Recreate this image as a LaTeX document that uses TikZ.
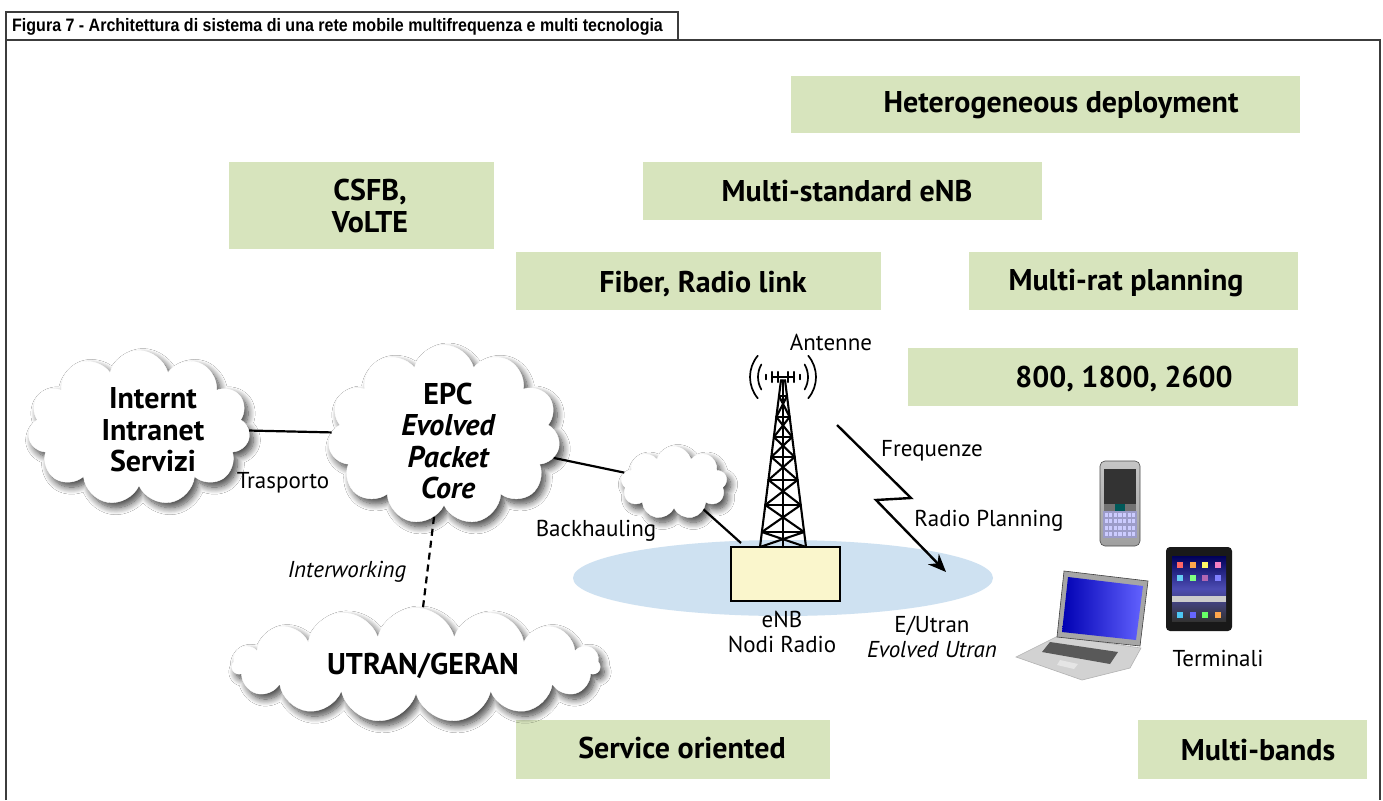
\documentclass[tikz,border=0pt]{standalone}
\usepackage{fontspec}
\setmainfont{PT Sans}
\newfontfamily\titlefont[FakeStretch=0.89]{Liberation Sans}
\usetikzlibrary{shapes.symbols,shapes.geometric,shadows.blur,arrows.meta,calc}

\definecolor{boxgreen}{RGB}{215,228,189}
\definecolor{cellblue}{RGB}{206,225,241}
\definecolor{enbyellow}{RGB}{250,246,204}
\definecolor{framegray}{RGB}{60,60,60}

\tikzset{
  greenbox/.style={fill=boxgreen, draw=none, inner sep=0pt},
  boxtext/.style={font=\bfseries\fontsize{30}{32}\selectfont, align=center, inner sep=0pt},
  cloudtext/.style={font=\bfseries\fontsize{30}{31.5}\selectfont, align=center, inner sep=0pt},
  plain/.style={font=\fontsize{23}{25}\selectfont, align=center, inner sep=0pt},
  slanted/.style={font=\itshape\fontsize{23}{25}\selectfont, align=center, inner sep=0pt},
  puffy/.style={cloud, cloud ignores aspect, draw=white, fill=white, inner sep=0pt,
    blur shadow={shadow xshift=4pt, shadow yshift=-5pt, shadow blur radius=7pt,
                 shadow blur steps=12, shadow opacity=75}},
  conn/.style={line width=2.2pt, black},
  dashconn/.style={line width=2.2pt, black, dash pattern=on 7pt off 5pt},
  bolt/.style={line width=2.4pt, black, -{Stealth[length=18pt,width=15pt]}},
  towerline/.style={line width=2.1pt, black, line cap=round, line join=round},
}

\begin{document}
\begin{tikzpicture}[x=1pt, y=-1pt]
\useasboundingbox (0,0) rectangle (1383,800);
\fill[white] (0,0) rectangle (1383,800);

% frame and caption
\draw[line width=1.5pt, framegray] (6,800) -- (6,12) -- (678,12) -- (678,40);
\draw[line width=1.5pt, framegray] (6,40) -- (1380,40) -- (1380,800);
\node[anchor=west, inner sep=0pt, font=\titlefont\bfseries\fontsize{18}{20}\selectfont] (caption) at (12,26.5)
  {Figura 7 - Architettura di sistema di una rete mobile multifrequenza e multi tecnologia};

% feature boxes
\node[greenbox, minimum width=509pt, minimum height=57pt] (het) at (1045.5,104.5) {};
\node[boxtext] (hett) at (1061,105) {Heterogeneous deployment};
\node[greenbox, minimum width=265pt, minimum height=87pt] (csfb) at (361.5,205.5) {};
\node[boxtext] (csfbt) at (370,206) {CSFB,\\VoLTE};
\node[greenbox, minimum width=399pt, minimum height=58pt] (mse) at (842.5,191) {};
\node[boxtext] (mset) at (847,191) {Multi-standard eNB};
\node[greenbox, minimum width=365pt, minimum height=58pt] (fib) at (698.5,281) {};
\node[boxtext] (fibt) at (703,284) {Fiber, Radio link};
\node[greenbox, minimum width=329pt, minimum height=58pt] (mrp) at (1133.5,281) {};
\node[boxtext] (mrpt) at (1126,283) {Multi-rat planning};
\node[greenbox, minimum width=390pt, minimum height=58pt] (freq) at (1103,377) {};
\node[boxtext] (freqt) at (1124,379) {800, 1800, 2600};
\node[greenbox, minimum width=314pt, minimum height=59pt] (svc) at (673,749.5) {};
\node[boxtext] (svct) at (682,748) {Service oriented};
\node[greenbox, minimum width=229pt, minimum height=59pt] (mb) at (1252.5,749.5) {};
\node[boxtext] (mbt) at (1258,750) {Multi-bands};

% radio cell
\node[ellipse, fill=cellblue, minimum width=420pt, minimum height=76pt, inner sep=0pt] (cell) at (783,578) {};

% clouds
\node[puffy, cloud puffs=11, minimum width=222pt, minimum height=155pt] (inet) at (139,428) {};
\node[cloudtext] (inett) at (153,430) {Internt\\Intranet\\Servizi};
\node[puffy, cloud puffs=11, minimum width=232pt, minimum height=180pt] (epc) at (444,435) {};
\node[cloudtext] (epct) at (448,441) {EPC\\\itshape Evolved\\\itshape Packet\\\itshape Core};
\node[puffy, cloud puffs=15, minimum width=368pt, minimum height=114pt] (utran) at (416,665) {};
\node[cloudtext] (utrant) at (423,666) {UTRAN/GERAN};
\node[puffy, cloud puffs=9, minimum width=106pt, minimum height=73pt] (bh) at (674,483) {};

% eNB box
\node[draw=black, line width=1.4pt, fill=enbyellow, minimum width=109pt, minimum height=54pt, inner sep=0pt] (enb) at (785.5,574) {};

% connectors
\draw[conn] (inet) -- (epc);
\draw[conn] (epc) -- (bh);
\coordinate (bhend) at (741,543);
\draw[conn] (bh) -- (bhend);
\draw[dashconn] (epc) -- (utran);

% tower
\begin{scope}[towerline]
  \draw (781,380) -- (760,547);
  \draw (785,380) -- (806,547);
  \draw (783,380) -- (783,547);
  \foreach \a/\b in {396/417, 417/437, 437/457, 457/480, 480/505, 505/532, 532/547} {
    \pgfmathsetmacro{\la}{781-21*(\a-380)/167}
    \pgfmathsetmacro{\ra}{785+21*(\a-380)/167}
    \pgfmathsetmacro{\lb}{781-21*(\b-380)/167}
    \pgfmathsetmacro{\rb}{785+21*(\b-380)/167}
    \draw (\la,\a) -- (\ra,\a);
    \draw (\la,\a) -- (\rb,\b);
    \draw (\ra,\a) -- (\lb,\b);
  }
  % antenna head
  \draw[line width=2.4pt] (772,377) -- (794,377);
  \draw[line width=2.4pt] (772,372) -- (772,382) (778,372) -- (778,382)
                         (788,372) -- (788,382) (794,372) -- (794,382);
  \draw[line width=1.7pt] (783,377) ++(140:33) arc[start angle=140, end angle=220, radius=33];
  \draw[line width=1.7pt] (783,377) ++(150:25) arc[start angle=150, end angle=210, radius=25];
  \draw[line width=1.7pt] (783,377) ++(172:17) arc[start angle=172, end angle=188, radius=17];
  \draw[line width=1.7pt] (783,377) ++(40:33) arc[start angle=40, end angle=-40, radius=33];
  \draw[line width=1.7pt] (783,377) ++(30:25) arc[start angle=30, end angle=-30, radius=25];
  \draw[line width=1.7pt] (783,377) ++(8:17) arc[start angle=8, end angle=-8, radius=17];
\end{scope}

% radio link bolt
\coordinate (b1) at (837,425);
\coordinate (b2) at (911,498);
\coordinate (b3) at (876,500);
\coordinate (b4) at (946,572);
\draw[bolt] (b1) -- (b2) -- (b3) -- (b4);

% labels
\node[plain] (ltrasp) at (283,483) {Trasporto};
\node[plain] (lback) at (596,531) {Backhauling};
\node[slanted] (linter) at (347,572) {Interworking};
\node[plain] (lant) at (831,342) {Antenne};
\node[plain] (lfreq) at (932,451) {Frequenze};
\node[plain] (lrp) at (989,521) {Radio Planning};
\node[plain] (lenb) at (782,632) {eNB\\Nodi Radio};
\node[plain] (leutran) at (932,637) {E/Utran\\\itshape Evolved Utran};
\node[plain] (lterm) at (1218,658) {Terminali};

% smartphone
\begin{scope}
  \shade[rounded corners=5pt, top color=gray!45, bottom color=gray!75, draw=gray!60!black, line width=0.6pt]
    (1100,461) rectangle (1140,546);
  \fill[black!80] (1104,469) rectangle (1136,504);
  \fill[black!55] (1104,504) rectangle (1136,511);
  \fill[teal!70!black] (1115,504) rectangle (1125,511);
  \fill[gray!70!blue!60] (1103,511) rectangle (1137,538);
  \foreach \i in {0,...,6} {
    \foreach \j in {0,...,3} {
      \fill[blue!20!white] (1104.5+\i*4.6,513+\j*6.3) rectangle (1107.8+\i*4.6,517+\j*6.3);
    }
  }
\end{scope}

% tablet
\begin{scope}
  \fill[black!90, rounded corners=4pt] (1166,547) rectangle (1232,631);
  \shade[top color=blue!35!black, bottom color=black!80, middle color=gray!60!blue] (1172,556) rectangle (1226,621);
  \fill[gray!40] (1172,596) rectangle (1226,602);
  \foreach \i/\c in {0/red!60, 1/orange!70, 2/yellow!60, 3/magenta!50} {
    \fill[\c] (1177+\i*12.5,562) rectangle (1183+\i*12.5,568);
  }
  \foreach \i/\c in {0/cyan!60, 1/green!50, 2/violet!60, 3/blue!50} {
    \fill[\c] (1177+\i*12.5,575) rectangle (1183+\i*12.5,581);
  }
  \foreach \i/\c in {0/cyan!70, 1/blue!60, 2/green!60, 3/orange!70} {
    \fill[\c] (1177+\i*12.5,612) rectangle (1183+\i*12.5,618);
  }
\end{scope}

% laptop
\begin{scope}
  \fill[gray!35, draw=gray!60, line width=0.6pt]
    (1058,636) -- (1141,648) -- (1130,668) -- (1082,680) -- (1016,657) -- cycle;
  \fill[black!65] (1050,642) -- (1118,652) -- (1110,664) -- (1042,652) -- cycle;
  \fill[gray!20] (1060,660) -- (1078,664) -- (1074,669) -- (1057,665) -- cycle;
  \fill[gray!70, draw=gray!50!black, line width=0.6pt]
    (1064,571) -- (1148,581) -- (1140,646) -- (1057,637) -- cycle;
  \shade[left color=blue!70!black, right color=blue!45!white!70!blue]
    (1068,577) -- (1143,586) -- (1136,640) -- (1062,632) -- cycle;
\end{scope}
\end{tikzpicture}
\end{document}
